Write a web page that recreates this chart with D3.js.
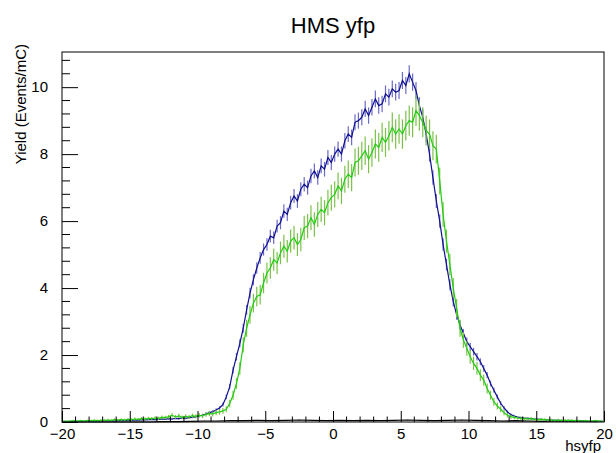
<!DOCTYPE html>
<html>
<head>
<meta charset="utf-8">
<script src="https://cdn.jsdelivr.net/npm/d3@7"></script>
<style>
  body { margin: 0; background: #fff; }
  text { font-family: "Liberation Sans", Arial, Helvetica, sans-serif; }
</style>
</head>
<body>
<div id="chart"></div>
<script>
// histogram binning (hsyfp, 160 bins from -20 to 20)
var xMin = -20, xMax = 20, nBins = 160

// yield per bin, 4 bins per unit
var blueYield = [
  0.01,0.02,0.01,0.02, 0.02,0.01,0.02,0.03, 0.02,0.03,0.02,0.03, 0.04,0.03,0.04,0.03,
  0.04,0.05,0.04,0.05, 0.05,0.06,0.05,0.07, 0.06,0.07,0.08,0.07, 0.08,0.09,0.08,0.10,
  0.09,0.11,0.10,0.12, 0.11,0.13,0.14,0.16, 0.18,0.21,0.24,0.28, 0.31,0.36,0.42,0.52,
  0.75,1.05,1.55,1.95, 2.35,2.80,3.35,3.85, 4.25,4.60,4.90,5.15, 5.30,5.55,5.50,5.85,
  5.95,6.30,6.20,6.55, 6.75,6.60,6.95,7.10, 7.00,7.35,7.50,7.30, 7.65,7.55,7.90,7.75,
  8.00,8.15,8.00,8.40, 8.60,8.50,8.95,9.00, 9.10,9.35,9.15,9.40, 9.65,9.45,9.50,9.80,
  9.70,9.95,9.85,9.90, 10.20,10.05,10.40,10.15, 9.90,9.45,9.10,8.60, 8.00,7.30,6.60,6.00,
  5.30,4.70,4.10,3.60, 3.20,2.90,2.65,2.40, 2.25,2.10,1.95,1.80, 1.60,1.40,1.15,0.95,
  0.75,0.56,0.42,0.30, 0.22,0.18,0.15,0.13, 0.12,0.11,0.10,0.09, 0.08,0.08,0.07,0.06,
  0.06,0.05,0.05,0.04, 0.04,0.05,0.04,0.03, 0.03,0.04,0.03,0.02, 0.02,0.03,0.02,0.02
]

var greenYield = [
  0.03,0.02,0.03,0.04, 0.03,0.04,0.03,0.04, 0.04,0.05,0.04,0.05, 0.05,0.06,0.05,0.07,
  0.06,0.07,0.06,0.08, 0.07,0.09,0.08,0.10, 0.09,0.11,0.10,0.12, 0.11,0.14,0.13,0.16,
  0.20,0.15,0.18,0.14, 0.17,0.15,0.19,0.17, 0.20,0.18,0.23,0.25, 0.24,0.28,0.30,0.33,
  0.38,0.55,0.80,1.15, 1.60,2.30,2.80,3.20, 3.55,3.75,3.80,4.15, 4.45,4.60,4.85,4.75,
  5.05,5.25,5.10,5.40, 5.50,5.30,5.45,5.80, 5.85,6.10,5.90,6.20, 6.35,6.25,6.55,6.70,
  6.80,7.05,6.90,7.25, 7.40,7.30,7.75,7.80, 7.95,8.10,7.85,8.05, 8.30,8.20,8.50,8.35,
  8.55,8.80,8.60,8.75, 8.60,8.85,9.00,8.95, 9.30,9.15,8.95,8.70, 8.60,8.25,8.15,7.20,
  6.20,5.40,4.70,4.00, 3.40,2.80,2.45,2.20, 1.95,1.75,1.60,1.40, 1.25,1.00,0.80,0.60,
  0.48,0.38,0.28,0.20, 0.16,0.14,0.12,0.11, 0.10,0.09,0.10,0.08, 0.07,0.08,0.07,0.06,
  0.06,0.05,0.06,0.05, 0.05,0.04,0.05,0.04, 0.04,0.03,0.04,0.03, 0.03,0.04,0.03,0.03
]

// third (black) histogram, 1 bin per unit, sits just above zero
var blackYield = [
  0.00,0.00,0.00,0.00,0.00,0.00,0.00,0.01,0.01,0.02,
  0.03,0.03,0.04,0.04,0.05,0.04,0.05,0.06,0.05,0.04,
  0.05,0.04,0.05,0.04,0.05,0.06,0.05,0.04,0.05,0.06,
  0.05,0.04,0.03,0.04,0.03,0.02,0.03,0.02,0.02,0.01
]

// statistical error scale per series (err = k * sqrt(yield))
var blueErrK = 0.08, greenErrK = 0.15, blackErrK = 0.03

var xTicks = [-20, -15, -10, -5, 0, 5, 10, 15, 20]
var yTicks = [0, 2, 4, 6, 8, 10]

var svg = d3.select("#chart").append("svg")
  .attr("width", 616)
  .attr("height", 453)

var x = d3.scaleLinear().domain([xMin, xMax]).range([62, 604])
var y = d3.scaleLinear().domain([0, 11.05]).range([422, 52])

// title
svg.append("text")
  .attr("x", 333)
  .attr("y", 33)
  .attr("text-anchor", "middle")
  .style("font-size", "22px")
  .text("HMS yfp")

function drawHist(vals, lineColor, errColor, errK) {
  var w = (xMax - xMin) / vals.length
  var pts = vals.map(function(v, i) {
    return { x: xMin + w * (i + 0.5), y: v, e: errK * Math.sqrt(v) }
  })
  svg.append("g").selectAll("line")
    .data(pts)
    .enter().append("line")
    .attr("x1", function(d) { return x(d.x) })
    .attr("x2", function(d) { return x(d.x) })
    .attr("y1", function(d) { return y(Math.max(0, d.y - d.e)) })
    .attr("y2", function(d) { return y(d.y + d.e) })
    .style("stroke", errColor)
    .style("stroke-width", 1.2)
  svg.append("path")
    .datum(pts)
    .attr("d", d3.line().x(function(d) { return x(d.x) }).y(function(d) { return y(d.y) }))
    .style("fill", "none")
    .style("stroke", lineColor)
    .style("stroke-width", 1.2)
}

drawHist(blackYield, "#000000", "#555555", blackErrK)
drawHist(blueYield, "#101090", "#6a6ac8", blueErrK)
drawHist(greenYield, "#22cc11", "#7cc04a", greenErrK)

// axes, ROOT style: ticks pointing into the frame
var xAxis = d3.axisBottom(x).tickValues(xTicks).tickSizeInner(-11).tickSizeOuter(0).tickPadding(6)
  .tickFormat(d3.format("d"))
var gx = svg.append("g").attr("transform", "translate(0,422)").call(xAxis)
gx.select(".domain").remove()
gx.selectAll("text").style("font-size", "15px").attr("fill", "#000")

var yAxis = d3.axisLeft(y).tickValues(yTicks).tickSizeInner(-16).tickSizeOuter(0).tickPadding(14)
var gy = svg.append("g").attr("transform", "translate(62,0)").call(yAxis)
gy.select(".domain").remove()
gy.selectAll("text").style("font-size", "15px").attr("fill", "#000")

// minor ticks
var xMinor = d3.range(xMin, xMax + 1, 1).filter(function(v) { return v % 5 != 0 })
svg.append("g").selectAll("line")
  .data(xMinor)
  .enter().append("line")
  .attr("x1", function(d) { return x(d) })
  .attr("x2", function(d) { return x(d) })
  .attr("y1", 422)
  .attr("y2", 416.5)
  .style("stroke", "#000")

var yMinor = d3.range(0, 11.05, 0.4).filter(function(v) { return Math.abs(v / 2 - Math.round(v / 2)) > 0.01 })
svg.append("g").selectAll("line")
  .data(yMinor)
  .enter().append("line")
  .attr("x1", 62)
  .attr("x2", 70)
  .attr("y1", function(d) { return y(d) })
  .attr("y2", function(d) { return y(d) })
  .style("stroke", "#000")

// frame
svg.append("rect")
  .attr("x", 62)
  .attr("y", 52)
  .attr("width", 542)
  .attr("height", 370)
  .style("fill", "none")
  .style("stroke", "#000")
  .style("stroke-width", 1)

// axis titles
svg.append("text")
  .attr("x", 601)
  .attr("y", 451)
  .attr("text-anchor", "end")
  .style("font-size", "15px")
  .text("hsyfp")

svg.append("text")
  .attr("transform", "translate(26,44) rotate(-90)")
  .attr("text-anchor", "end")
  .style("font-size", "15px")
  .text("Yield (Events/mC)")
</script>
</body>
</html>
